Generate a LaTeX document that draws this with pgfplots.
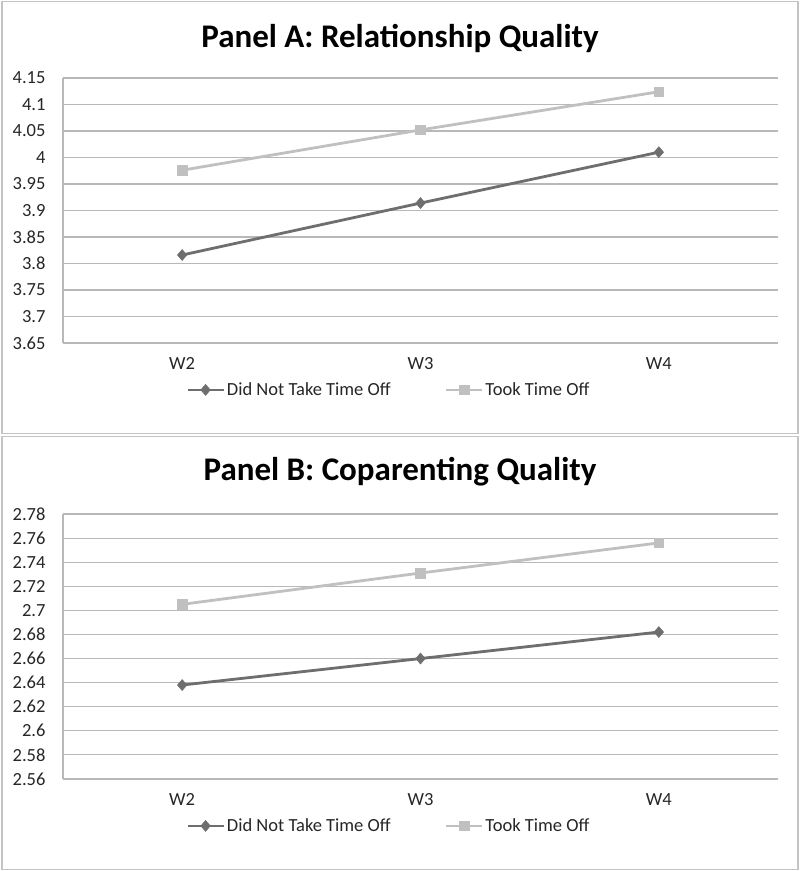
\documentclass[border=0pt]{standalone}
\usepackage{pgfplots}
\pgfplotsset{compat=1.18}
\usepackage{fontspec}
\setmainfont{Carlito}
\definecolor{darkser}{HTML}{6E6E6E}
\definecolor{lightser}{HTML}{C0C0C0}
\definecolor{gridc}{HTML}{B8B8B8}
\definecolor{framec}{HTML}{C4C4C4}
\begin{document}
\begin{tikzpicture}[x=1pt,y=1pt]
\path (0pt,0pt) rectangle (800pt,871pt);
\draw[framec, line width=1.3pt] (2pt,437.5pt) rectangle (798pt,869.5pt);
\draw[framec, line width=1.3pt] (2pt,1.5pt) rectangle (798pt,434.5pt);
\pgfplotsset{panel/.style={
  scale only axis, width=715pt, height=265pt, anchor=south west,
  xmin=0, xmax=3, xtick={0.5,1.5,2.5}, xticklabels={W2,W3,W4},
  axis x line*=bottom, axis y line*=left,
  axis line style={gridc, line width=1.1pt},
  ymajorgrids, major grid style={gridc, line width=1.1pt},
  major tick length=0pt,
  /pgf/number format/assume math mode=true,
  tick label style={font=\fontsize{18.5}{22}\selectfont, text=black!85},
  yticklabel style={xshift=-14pt},
  xticklabel style={yshift=-11pt},
  legend style={at={(0.172,-0.177)}, anchor=west, draw=none, fill=none,
    font=\fontsize{18.5}{22}\selectfont, text=black!85,
    legend columns=2, inner sep=0pt,
    /tikz/every even column/.append style={column sep=52pt}},
  legend image code/.code={\draw[mark repeat=2,mark phase=2,##1] plot coordinates {(0pt,0pt)(18pt,0pt)(36pt,0pt)};},
  dser/.style={darkser, line width=2.8pt, mark=diamond*, mark size=5.5pt, mark options={solid, xscale=1.15, line width=0.5pt}},
  lser/.style={lightser, line width=2.8pt, mark=square*, mark size=4.8pt, mark options={solid, line width=0.5pt}},
}}
\begin{axis}[panel, at={(63pt,528pt)}, ymin=3.65, ymax=4.15,
  ytick={3.65,3.7,3.75,3.8,3.85,3.9,3.95,4,4.05,4.1,4.15},
  yticklabels={3.65,3.7,3.75,3.8,3.85,3.9,3.95,4,4.05,4.1,4.15}]
\addplot[dser] coordinates {(0.5,3.816) (1.5,3.914) (2.5,4.010)};
\addlegendentry{Did Not Take Time Off}
\addplot[lser] coordinates {(0.5,3.976) (1.5,4.052) (2.5,4.124)};
\addlegendentry{Took Time Off}
\end{axis}
\begin{axis}[panel, at={(63pt,92pt)}, ymin=2.56, ymax=2.78,
  ytick={2.56,2.58,2.6,2.62,2.64,2.66,2.68,2.7,2.72,2.74,2.76,2.78},
  yticklabels={2.56,2.58,2.6,2.62,2.64,2.66,2.68,2.7,2.72,2.74,2.76,2.78}]
\addplot[dser] coordinates {(0.5,2.638) (1.5,2.660) (2.5,2.682)};
\addlegendentry{Did Not Take Time Off}
\addplot[lser] coordinates {(0.5,2.705) (1.5,2.731) (2.5,2.756)};
\addlegendentry{Took Time Off}
\end{axis}
\node[font=\fontsize{33}{38}\selectfont\bfseries, text=black] at (400pt,833pt) {Panel A: Relationship Quality};
\node[font=\fontsize{33}{38}\selectfont\bfseries, text=black] at (400pt,399pt) {Panel B: Coparenting Quality};
\end{tikzpicture}
\end{document}
